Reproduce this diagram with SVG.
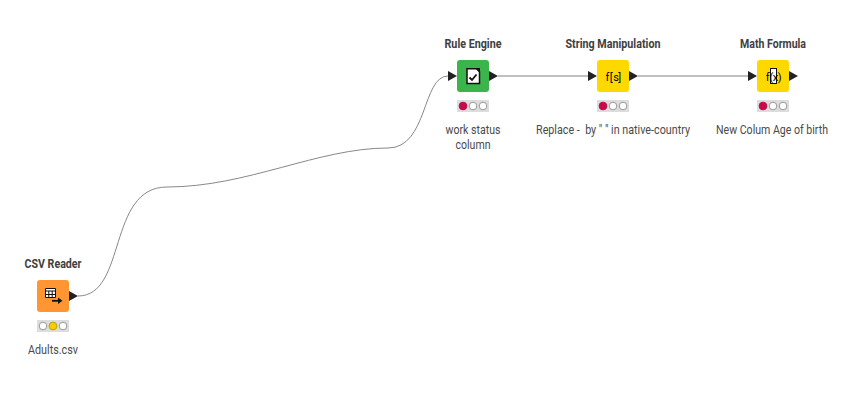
<svg xmlns="http://www.w3.org/2000/svg" width="852" height="407" viewBox="0 0 852 407">
<style>
.t{font-family:Roboto,"Liberation Sans",sans-serif;font-size:13px;text-anchor:middle;fill:#4a4a4a}
.b{font-weight:700;fill:#404040}
.c{fill:none;stroke:#888;stroke-width:1}
.s{fill:none;stroke:#aaa;stroke-width:1.6}
.p{fill:#222}
.tl{fill:#dcdedd}
.l{fill:#fff;stroke:#999;stroke-width:1}
.r{fill:#c8094e;stroke:#c8094e}
.y{fill:#f8ce00;stroke:#c9a800}
.g{font-family:"Roboto","Liberation Sans",sans-serif;font-size:11px;font-weight:400;fill:#000}
</style>
<defs>
<path id="pt" class="p" d="M0-5 9 0 0 5Z"/>
<g id="tr"><rect class="tl" width="32" height="12"/><circle class="l" cx="6" cy="6" r="3.800"/><circle class="l" cx="16" cy="6" r="3.800"/><circle class="l" cx="26" cy="6" r="3.800"/></g>
</defs>
<g id="connectors">
<path class="c" d="M78 296C127 296 107 187 167 187C247 187 318 148 388 148C428 148 422 76 448 76"/>
<path class="s" d="M498 76H588"/>
<path class="s" d="M638 76H748"/>
</g>
<g id="node-csv-reader">
<text class="t b" x="53" y="268" textLength="57" lengthAdjust="spacingAndGlyphs">CSV Reader</text>
<rect x="37" y="280" width="32" height="32" rx="3" fill="#ff9632"/>
<path d="M45.500 288.500h10v9h-10zM45.500 291h10M45.500 294.500h10M48.800 291v6.500M52.200 291v6.500" fill="#fff" stroke="#111" stroke-width="1"/>
<path d="M52 300.800h7" stroke="#111" stroke-width="1.800"/><path d="M58 297.500 62.500 300.800 58 304Z" fill="#111"/>
<use href="#pt" x="69" y="296"/>
<use href="#tr" x="37" y="320"/><circle class="y" cx="53" cy="326" r="3.800"/>
<text class="t" x="53" y="354" textLength="50" lengthAdjust="spacingAndGlyphs">Adults.csv</text>
</g>
<g id="node-rule-engine">
<text class="t b" x="473" y="48" textLength="57" lengthAdjust="spacingAndGlyphs">Rule Engine</text>
<rect x="457" y="60" width="32" height="32" rx="3" fill="#3cb44c"/>
<path d="M467 68.800h9.500l3 3v11.700h-12.500z" fill="#fff" stroke="#111" stroke-width="1.500"/>
<path d="M469.500 77.500l2.500 2.500 4.500-5.500" fill="none" stroke="#111" stroke-width="1.800"/>
<path d="M475.500 68h4.500v4.500z" fill="#111"/>
<use href="#pt" x="448" y="76"/><use href="#pt" x="489" y="76"/>
<use href="#tr" x="457" y="100"/><circle class="r" cx="463" cy="106" r="3.800"/>
<text class="t" x="473" y="134" textLength="55" lengthAdjust="spacingAndGlyphs">work status</text>
<text class="t" x="473" y="149" textLength="35" lengthAdjust="spacingAndGlyphs">column</text>
</g>
<g id="node-string-manipulation">
<text class="t b" x="613" y="48" textLength="95" lengthAdjust="spacingAndGlyphs">String Manipulation</text>
<rect x="597" y="60" width="32" height="32" rx="3" fill="#ffd800"/>
<text class="g" x="605.500 609.800 613.200 618.200" y="81">f[s]</text>
<use href="#pt" x="588" y="76"/><use href="#pt" x="629" y="76"/>
<use href="#tr" x="597" y="100"/><circle class="r" cx="603" cy="106" r="3.800"/>
<text class="t" x="613" y="134" xml:space="preserve" textLength="154" lengthAdjust="spacingAndGlyphs">Replace -  by " " in native-country</text>
</g>
<g id="node-math-formula">
<text class="t b" x="773" y="48" textLength="66" lengthAdjust="spacingAndGlyphs">Math Formula</text>
<rect x="757" y="60" width="32" height="32" rx="3" fill="#ffd800"/>
<rect x="770.500" y="68.500" width="6" height="15" fill="#fff" stroke="#111" stroke-width="1"/>
<text class="g" x="765.800 769.500 772.800 777.800" y="81">f(x)</text>
<use href="#pt" x="748" y="76"/><use href="#pt" x="789" y="76"/>
<use href="#tr" x="757" y="100"/><circle class="r" cx="763" cy="106" r="3.800"/>
<text class="t" x="772" y="134" textLength="112" lengthAdjust="spacingAndGlyphs">New Colum Age of birth</text>
</g>
</svg>
